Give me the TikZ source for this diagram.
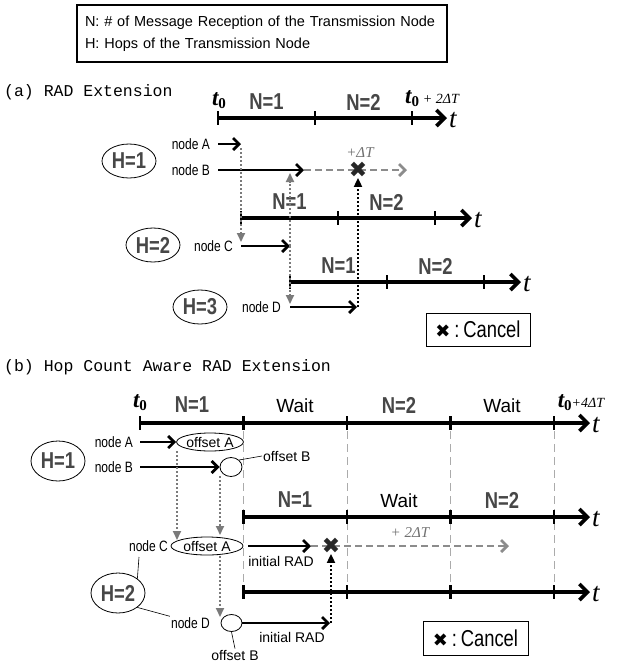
\documentclass[tikz,border=0pt]{standalone}
\usepackage{fontspec}
\setmainfont{Liberation Sans}
\newfontfamily\narrowfont{Liberation Sans}[FakeStretch=0.8]
\newfontfamily\monofont{Liberation Mono}
\newfontfamily\serifmath{Liberation Serif}
\newfontfamily\symfont{DejaVu Sans}
\usetikzlibrary{arrows.meta,positioning,shapes.geometric}
\definecolor{lblgray}{HTML}{474747}
\definecolor{dotgray}{HTML}{7A7A7A}
\definecolor{extgray}{HTML}{8C8C8C}
\definecolor{slotgray}{HTML}{ABABAB}
\newcommand{\tz}{{\serifmath\bfseries\itshape t}{\serifmath\bfseries\fontsize{15}{15}\selectfont\raisebox{-3pt}{0}}}
\tikzset{
  timeline/.style={line width=3.6pt,-{Straight Barb[length=8pt,width=16pt]}},
  tickmark/.style={line width=2.6pt},
  txarrow/.style={line width=2.8pt,-{Straight Barb[length=6pt,width=12pt]}},
  extarrow/.style={line width=2.8pt,draw=extgray,dash pattern=on 7pt off 4pt,-{Straight Barb[length=6pt,width=12pt]}},
  relaygray/.style={line width=1.8pt,draw=dotgray,dash pattern=on 2pt off 2pt,-{Triangle[length=9pt,width=8pt]}},
  relayblack/.style={line width=1.8pt,draw=black,dash pattern=on 2pt off 2pt,-{Triangle[length=9pt,width=8pt]}},
  slotline/.style={line width=0.9pt,draw=slotgray,dash pattern=on 8pt off 5pt},
  hopnode/.style={draw,ellipse,line width=0.8pt,minimum width=54pt,minimum height=34pt,inner sep=0pt,text=lblgray,font=\narrowfont\bfseries\fontsize{23}{23}\selectfont},
  nodelbl/.style={font=\narrowfont\fontsize{15}{15}\selectfont,inner sep=1pt},
  seglbl/.style={text=lblgray,font=\narrowfont\bfseries\fontsize{23}{23}\selectfont,inner sep=0pt},
  waitlbl/.style={font=\fontsize{19}{19}\selectfont,inner sep=0pt},
  tlbl/.style={font=\serifmath\itshape\fontsize{27}{27}\selectfont,inner sep=0pt},
  tzlbl/.style={font=\fontsize{23}{23}\selectfont,inner sep=0pt},
  offsetnode/.style={draw,ellipse,line width=0.8pt,inner sep=0pt,fill=white,font=\fontsize{14}{14}\selectfont},
  smalllbl/.style={font=\fontsize{14}{14}\selectfont,inner sep=1pt},
  cross/.style={font=\symfont\fontsize{22}{22}\selectfont,inner sep=0pt,text=black!85},
  cancelbox/.style={draw,line width=0.8pt,minimum width=104pt,minimum height=33pt,inner sep=0pt,font=\narrowfont\fontsize{23}{23}\selectfont},
  seclbl/.style={font=\monofont\fontsize{16.5}{16.5}\selectfont,anchor=west,inner sep=0pt},
  deltalbl/.style={text=extgray!80!black,font=\serifmath\itshape\fontsize{15}{15}\selectfont,inner sep=0pt},
  leader/.style={line width=0.6pt}
}
\begin{document}
\begin{tikzpicture}[x=1pt,y=-1pt]
\useasboundingbox (0,0) rectangle (617,662);
% legend
\node[draw,line width=1.2pt,minimum width=370pt,minimum height=57pt,text width=354pt,align=left,inner sep=0pt,font=\fontsize{14.5}{22}\selectfont] (legend) at (262,33.5) {N: \# of Message Reception of the Transmission Node\\H: Hops of the Transmission Node};

% (a) RAD Extension
\node[seclbl] (secA) at (4,92) {(a) RAD Extension};
\coordinate (a1s) at (218,118); \coordinate (a1e) at (447,118);
\coordinate (a2s) at (241,218); \coordinate (a2e) at (472,218);
\coordinate (a3s) at (290,282); \coordinate (a3e) at (521,282);
\draw[timeline] (a1s) -- (a1e);
\draw[timeline] (a2s) -- (a2e);
\draw[timeline] (a3s) -- (a3e);
\foreach \x in {218,315,412} \draw[tickmark] (\x,111) -- (\x,125);
\foreach \x in {241,338,435} \draw[tickmark] (\x,211) -- (\x,225);
\foreach \x in {290,387,484} \draw[tickmark] (\x,275) -- (\x,289);
\node[tlbl,right=2pt of a1e,yshift=-2pt] (a1t) {t};
\node[tlbl,right=2pt of a2e,yshift=-2pt] (a2t) {t};
\node[tlbl,right=2pt of a3e,yshift=-2pt] (a3t) {t};
\node[tzlbl] (a1t0) at (219,101) {\tz};
\node[tzlbl] (a1tend) at (432,99) {\tz\,{\serifmath\itshape\fontsize{14}{14}\selectfont + 2ΔT}};
\node[seglbl] (a1n1) at (266.5,102) {N=1};
\node[seglbl] (a1n2) at (363.5,102) {N=2};
\node[seglbl] (a2n1) at (289.5,202) {N=1};
\node[seglbl] (a2n2) at (386.5,202) {N=2};
\node[seglbl] (a3n1) at (338.5,266) {N=1};
\node[seglbl] (a3n2) at (435.5,266) {N=2};

\node[hopnode] (aH1) at (129,161) {H=1};
\node[hopnode] (aH2) at (153,245) {H=2};
\node[hopnode] (aH3) at (200,307) {H=3};
\node[nodelbl,anchor=east] (aA) at (211,144) {node A};
\node[nodelbl,anchor=east] (aB) at (211,170) {node B};
\node[nodelbl,anchor=east] (aC) at (234,246) {node C};
\node[nodelbl,anchor=east] (aD) at (282,307) {node D};

\coordinate (aA0) at (218,144); \coordinate (aA1) at (241,144);
\coordinate (aB0) at (218,170); \coordinate (aB1) at (304,170); \coordinate (aB2) at (407,170);
\coordinate (aC0) at (241,246); \coordinate (aC1) at (290,246);
\coordinate (aD0) at (290,307); \coordinate (aD1) at (357,307);
\draw[extarrow] (aB1) -- (aB2);
\node[cross] (aX) at (358,170) {✖};
\node[deltalbl] (aDelta) at (360,153) {+ΔT};
\draw[txarrow] (aA0) -- (aA1);
\draw[txarrow] (aB0) -- (aB1);
\draw[txarrow] (aC0) -- (aC1);
\draw[txarrow] (aD0) -- (aD1);
\draw[relaygray] (241,148) -- (241,242);
\draw[relaygray] (aC1) -- (290,173);
\draw[relaygray] (aC1) -- (290,304);
\draw[relayblack] (358,307) -- (aX.south);
\node[cancelbox] (aCancel) at (478,329.5) {{\symfont\fontsize{18}{18}\selectfont ✖}\,:\,Cancel};

% (b) Hop Count Aware RAD Extension
\node[seclbl] (secB) at (4,367) {(b) Hop Count Aware RAD Extension};
\foreach \x in {243.5,347,450.5,554} \draw[slotline] (\x,431) -- (\x,586);
\coordinate (b1s) at (140,423); \coordinate (b1e) at (590,423);
\coordinate (b2s) at (243.5,517); \coordinate (b2e) at (590,517);
\coordinate (b3s) at (243.5,592); \coordinate (b3e) at (590,592);
\draw[timeline] (b1s) -- (b1e);
\draw[timeline] (b2s) -- (b2e);
\draw[timeline] (b3s) -- (b3e);
\foreach \x in {140,243.5,347,450.5,554} \draw[tickmark] (\x,416) -- (\x,430);
\foreach \x in {243.5,347,450.5,554} {
  \draw[tickmark] (\x,510) -- (\x,524);
  \draw[tickmark] (\x,585) -- (\x,599);
}
\node[tlbl,right=2pt of b1e,yshift=-2pt] (b1t) {t};
\node[tlbl,right=2pt of b2e,yshift=-2pt] (b2t) {t};
\node[tlbl,right=2pt of b3e,yshift=-2pt] (b3t) {t};
\node[tzlbl] (b1t0) at (140,403) {\tz};
\node[tzlbl] (b1tend) at (581,403) {\tz{\serifmath\itshape\fontsize{14}{14}\selectfont +4ΔT}};
\node[seglbl] (b1n1) at (192,405) {N=1};
\node[waitlbl] (b1w1) at (295,406) {Wait};
\node[seglbl] (b1n2) at (399,405) {N=2};
\node[waitlbl] (b1w2) at (502,406) {Wait};
\node[seglbl] (b2n1) at (295,500) {N=1};
\node[waitlbl] (b2w1) at (399,501) {Wait};
\node[seglbl] (b2n2) at (502,500) {N=2};

\node[hopnode,minimum height=40pt] (bH1) at (58,461) {H=1};
\node[hopnode,minimum height=40pt] (bH2) at (118,593) {H=2};
\node[nodelbl,anchor=east] (bA) at (134,442) {node A};
\node[nodelbl,anchor=east] (bB) at (134,467) {node B};
\node[nodelbl,anchor=east] (bC) at (169,546) {node C};
\node[nodelbl,anchor=east] (bD) at (211,623) {node D};
\draw[leader] (139,557) -- (bH2.north east);
\draw[leader] (bH2.south east) -- (bD.north west);

\node[offsetnode,minimum width=66pt,minimum height=18pt] (bOffA1) at (210,442) {offset A};
\node[offsetnode,minimum width=22pt,minimum height=19pt] (bOffB1) at (231,467) {};
\node[smalllbl,anchor=west] (bOffB1l) at (262,456) {offset B};
\draw[leader] (bOffB1.north east) -- (bOffB1l.west);
\node[offsetnode,minimum width=72pt,minimum height=18pt] (bOffA2) at (207,546) {offset A};
\node[offsetnode,minimum width=21pt,minimum height=17pt] (bOffB2) at (231.5,623) {};
\node[smalllbl] (bOffB2l) at (235,655) {offset B};
\draw[leader] (bOffB2.south) -- (bOffB2l.north);

\coordinate (bA0) at (140,442); \coordinate (bB0) at (140,467);
\coordinate (bC0) at (248,546); \coordinate (bC1) at (311,546); \coordinate (bC2) at (509,546);
\coordinate (bD0) at (242,623); \coordinate (bD1) at (330,623);
\draw[extarrow] (bC1) -- (bC2);
\node[cross] (bX) at (331,546) {✖};
\node[deltalbl] (bDelta) at (410,533) {+ 2ΔT};
\draw[txarrow] (bA0) -- (bOffA1.west);
\draw[txarrow] (bB0) -- (bOffB1.west);
\draw[txarrow] (bC0) -- (bC1);
\draw[txarrow] (bD0) -- (bD1);
\node[smalllbl] (bRad1) at (281,561) {initial RAD};
\node[smalllbl] (bRad2) at (292,637) {initial RAD};
\draw[relaygray] (177,451) -- (177,540);
\draw[relaygray] (220,476) -- (220,535);
\draw[relaygray] (220,556) -- (220,617);
\draw[relayblack] (331,623) -- (bX.south);
\node[cancelbox,minimum width=105pt,minimum height=34pt] (bCancel) at (475.5,638) {{\symfont\fontsize{18}{18}\selectfont ✖}\,:\,Cancel};
\end{tikzpicture}
\end{document}
